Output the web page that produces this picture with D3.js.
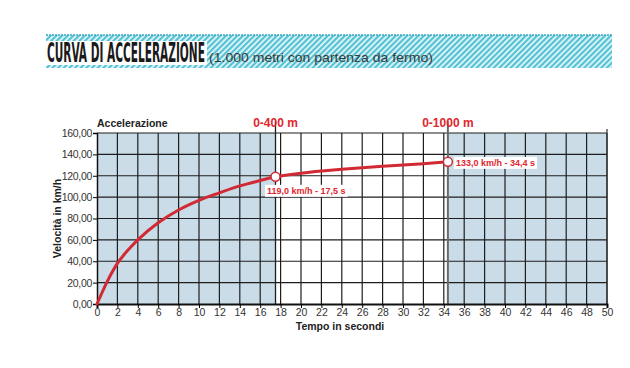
<!DOCTYPE html>
<html><head><meta charset="utf-8">
<script src="https://cdn.jsdelivr.net/npm/d3@7"></script>
<style>body{margin:0;background:#fff}svg{display:block}</style>
</head><body>
<script>
const times  = [0, 1, 2, 3, 4, 6, 8, 10, 12, 14, 16, 17.5, 20, 24, 28, 32, 34.4];
const speeds = [0, 21, 38, 50, 60, 76, 88, 97, 104, 110.5, 115.5, 119, 122.3, 126, 129, 131.3, 133];
const markTimes  = [17.5, 34.4];
const markSpeeds = [119, 133];
const markLabels = ["119,0 km/h - 17,5 s", "133,0 km/h - 34,4 s"];
const markTitles = ["0-400 m", "0-1000 m"];
const xTicks = d3.range(0, 51, 2);
const yTicks = d3.range(0, 161, 20);
const titleText = "CURVA DI ACCELERAZIONE";
const subtitleText = "(1.000 metri con partenza da fermo)";

const W = 630, H = 368;
const svg = d3.select("body").append("svg").attr("width", W).attr("height", H);
const x = d3.scaleLinear().domain([0, 50]).range([97, 607]);
const y = d3.scaleLinear().domain([0, 160]).range([304, 133]);

// banner
const defs = svg.append("defs");
const pat = defs.append("pattern").attr("id", "hatch").attr("patternUnits", "userSpaceOnUse")
  .attr("width", 4).attr("height", 4).attr("patternTransform", "rotate(45)");
pat.append("rect").attr("width", 4).attr("height", 4).attr("fill", "#e6f6f9");
pat.append("rect").attr("width", 2.2).attr("height", 4).attr("fill", "#52c2d4");
svg.append("rect").attr("x", 46).attr("y", 35).attr("width", 566).attr("height", 33).attr("fill", "url(#hatch)");
svg.append("line").attr("x1", 46).attr("x2", 612).attr("y1", 35).attr("y2", 35)
  .attr("stroke", "#3aa9bd").attr("stroke-width", 1.5).attr("stroke-dasharray", "2,1");
svg.append("rect").attr("x", 45).attr("y", 41).attr("width", 162).attr("height", 24).attr("fill", "#fff");
const tt = svg.append("text").attr("x", 0).attr("y", 0).text(titleText)
  .attr("font-family", "DejaVu Sans Condensed, DejaVu Sans").attr("font-weight", "bold")
  .attr("font-size", 26).attr("fill", "#1a1a1a");
const tw = tt.node().getComputedTextLength();
tt.attr("transform", `translate(47,62) scale(${158 / tw},1)`);
const st = svg.append("text").attr("x", 0).attr("y", 0).text(subtitleText)
  .attr("font-family", "Liberation Sans, Arial").attr("font-size", 13.5).attr("fill", "#3a3a3a");
const sw = st.node().getComputedTextLength();
st.attr("transform", `translate(209,62) scale(${224 / sw},1)`);

// shaded regions
const bg = "#c9dce8";
svg.append("rect").attr("x", x(0)).attr("y", y(160)).attr("width", x(17.5) - x(0)).attr("height", y(0) - y(160)).attr("fill", bg);
svg.append("rect").attr("x", x(34.4)).attr("y", y(160)).attr("width", x(50) - x(34.4)).attr("height", y(0) - y(160)).attr("fill", bg);

// grid
const g = svg.append("g");
g.selectAll(".vx").data(xTicks.filter(d => d > 0)).enter().append("line")
  .attr("x1", d => x(d)).attr("x2", d => x(d)).attr("y1", y(160)).attr("y2", y(0))
  .attr("stroke", "#1e1e1e").attr("stroke-width", 1.2);
g.selectAll(".hy").data(yTicks.filter(d => d > 0)).enter().append("line")
  .attr("x1", x(0)).attr("x2", x(50)).attr("y1", d => y(d)).attr("y2", d => y(d))
  .attr("stroke", "#1e1e1e").attr("stroke-width", 1.2);
g.append("line").attr("x1", x(50)).attr("x2", x(50)).attr("y1", y(160) - 4).attr("y2", y(0)).attr("stroke", "#333").attr("stroke-width", 1.2);
g.append("line").attr("x1", x(markTimes[0])).attr("x2", x(markTimes[0])).attr("y1", y(160) - 12).attr("y2", y(0)).attr("stroke", "#1e1e1e").attr("stroke-width", 1.3);
g.append("line").attr("x1", x(markTimes[1])).attr("x2", x(markTimes[1])).attr("y1", y(160) - 12).attr("y2", y(0)).attr("stroke", "#6a6a6a").attr("stroke-width", 2);

// axes
const font = "Liberation Sans, Arial, sans-serif";
const yAxis = svg.append("g").attr("transform", `translate(${x(0)},0)`)
  .call(d3.axisLeft(y).tickValues(yTicks).tickSize(4).tickPadding(1).tickFormat(d => d3.format(".2f")(d).replace(".", ",")));
yAxis.select(".domain").attr("stroke", "#111").attr("stroke-width", 1.5);
yAxis.selectAll("text").attr("font-family", font).attr("font-size", 10.5).attr("fill", "#333").attr("letter-spacing", "-0.3");
const xAxis = svg.append("g").attr("transform", `translate(0,${y(0)})`)
  .call(d3.axisBottom(x).tickValues(xTicks).tickSize(4).tickPadding(1));
xAxis.select(".domain").attr("stroke", "#111").attr("stroke-width", 2);
xAxis.selectAll("text").attr("font-family", font).attr("font-size", 10.5).attr("fill", "#333");

svg.append("text").attr("x", 97).attr("y", 127).text("Accelerazione")
  .attr("font-family", font).attr("font-weight", "bold").attr("font-size", 10.5).attr("fill", "#222");
svg.append("text").attr("transform", `translate(61,${(y(0) + y(160)) / 2}) rotate(-90)`).attr("text-anchor", "middle")
  .text("Velocità in km/h").attr("font-family", font).attr("font-weight", "bold").attr("font-size", 10.5).attr("fill", "#222");
svg.append("text").attr("x", 340).attr("y", 330).attr("text-anchor", "middle").text("Tempo in secondi")
  .attr("font-family", font).attr("font-weight", "bold").attr("font-size", 10.5).attr("fill", "#222");

svg.selectAll(".mt").data(markTitles).enter().append("text")
  .attr("x", (d, i) => x(markTimes[i])).attr("y", 127).attr("text-anchor", "middle").text(d => d)
  .attr("font-family", font).attr("font-weight", "bold").attr("font-size", 12).attr("fill", "#e0262f");

// curve
const pts = times.map((t, i) => [t, speeds[i]]);
svg.append("path").datum(pts)
  .attr("d", d3.line().x(d => x(d[0])).y(d => y(d[1])).curve(d3.curveMonotoneX))
  .attr("fill", "none").attr("stroke", "#d22a34").attr("stroke-width", 3).attr("stroke-linecap", "round");

// marker labels
const labOff = [[-8.5, 17], [8, 4]];
markLabels.forEach((lab, i) => {
  const lx = x(markTimes[i]) + labOff[i][0], ly = y(markSpeeds[i]) + labOff[i][1];
  const t = svg.append("text").attr("x", lx).attr("y", ly).text(lab)
    .attr("font-family", font).attr("font-weight", "bold").attr("font-size", 9).attr("fill", "#e0262f");
  const bb = t.node().getBBox();
  svg.insert("rect", () => t.node()).attr("x", bb.x - 2).attr("y", bb.y - 1).attr("width", bb.width + 4).attr("height", bb.height + 2).attr("fill", "#fff");
});
svg.selectAll(".mk").data(markTimes).enter().append("circle")
  .attr("cx", d => x(d)).attr("cy", (d, i) => y(markSpeeds[i])).attr("r", 4.5)
  .attr("fill", "#fff").attr("stroke", "#d22a34").attr("stroke-width", 1.5);
</script>
</body></html>
